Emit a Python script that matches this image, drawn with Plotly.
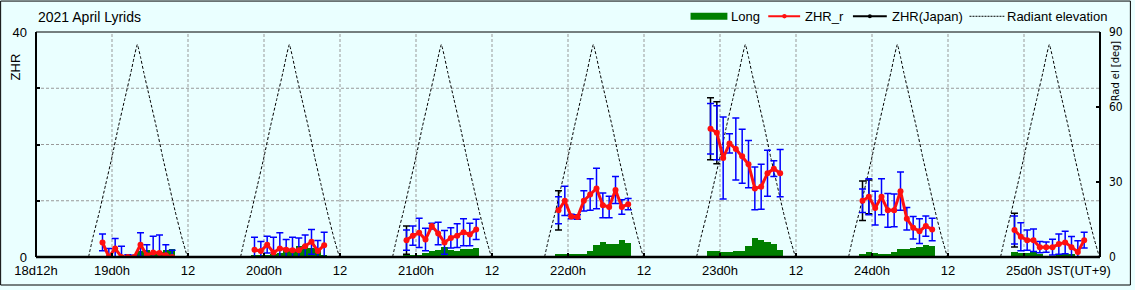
import plotly.graph_objects as go

# ---------------- data ----------------
# hour offsets (JST) relative to each day's 0h, hourly bins
offsets = [-1.5, -0.5, 0.5, 1.5, 2.5, 3.5, 4.5, 5.5, 6.5, 7.5, 8.5, 9.5]
days = [19, 20, 21, 22, 23, 24, 25]

zhr_r_19 = [2.6, 0.0, 1.5, 0.0, 0.0, 0.0, 2.2, 0.3, 0.8, 0.7, 0.3, 0.0]
zhr_r_20 = [1.3, 1.05, 2.2, 0.8, 1.5, 1.3, 1.2, 1.2, 1.9, 2.7, 1.05, 2.1]
zhr_r_21 = [3.0, 3.8, 4.3, 3.1, 5.5, 4.2, 2.6, 3.4, 3.8, 4.4, 4.0, 4.9]
zhr_r_22 = [8.3, 10.0, 7.2, 7.1, 10.0, 11.1, 12.2, 9.2, 8.9, 11.9, 8.9, 9.4]
zhr_r_23 = [22.8, 22.1, 17.6, 20.2, 19.2, 17.9, 16.5, 12.2, 12.5, 14.9, 15.7, 14.9]
zhr_r_24 = [10.0, 10.7, 8.7, 10.7, 8.3, 8.3, 11.7, 6.8, 5.2, 4.6, 5.5, 4.9]
zhr_r_25 = [4.8, 3.6, 3.0, 3.0, 1.75, 1.75, 1.75, 2.3, 2.6, 1.75, 0.9, 3.0]

err_19 = [1.5, 1.5, 1.8, 1.9, 0.4, 0.3, 2.1, 1.9, 2.9, 3.2, 1.9, 1.2]
err_20 = [2.2, 1.7, 1.5, 2.7, 2.8, 1.8, 2.3, 2.2, 2.0, 2.2, 1.9, 2.3]
err_21 = [1.8, 1.7, 2.6, 2.0, 0.5, 2.0, 2.1, 1.8, 2.1, 2.4, 2.0, 1.8]
err_22 = [2.4, 2.6, 0.4, 0.4, 1.8, 2.8, 3.6, 2.2, 1.9, 2.4, 1.3, 1.0]
err_23 = [4.5, 4.8, 7.3, 1.7, 5.5, 4.8, 4.2, 3.8, 4.0, 4.1, 1.4, 4.2]
err_24 = [2.1, 3.2, 3.0, 3.2, 3.0, 2.9, 3.4, 2.0, 2.0, 2.2, 1.8, 2.0]
err_25 = [2.5, 2.5, 1.8, 2.0, 1.0, 0.9, 1.4, 1.8, 2.0, 1.9, 2.0, 1.4]

# ZHR(Japan) (first hours of each night, mostly hidden under ZHR_r)
japan_days = [21, 22, 23, 23, 24, 24, 25]
japan_offsets = [-1.5, -1.5, -1.5, -0.5, -1.5, -0.5, -1.5]
zhr_japan = [3.0, 8.3, 22.8, 22.1, 10.0, 10.7, 4.8]
japan_err = [2.5, 3.5, 5.5, 5.5, 3.5, 3.0, 3.0]

# "Long" hourly bars
long_off_19 = [2.5, 3.5, 4.5, 5.5, 6.5, 7.5, 8.5, 9.5]
long_19 = [0.2, 0.3, 1.1, 1.2, 0.8, 0.9, 1.3, 1.4]
long_20 = [0.2, 0.2, 0.3, 0.5, 0.7, 1.2, 1.5, 2.0, 2.1, 1.6, 1.2, 0.4]
long_21 = [0.2, 0.2, 0.4, 0.7, 1.0, 1.3, 1.7, 1.3, 1.1, 1.4, 1.4, 1.6]
long_22 = [0.5, 0.5, 0.6, 0.6, 0.6, 1.0, 2.1, 2.7, 2.3, 2.3, 3.0, 2.5]
long_23 = [1.1, 1.1, 0.9, 0.9, 1.0, 1.0, 2.0, 3.4, 3.0, 2.7, 2.3, 1.3]
long_24 = [0.5, 0.9, 0.8, 0.6, 0.5, 0.9, 1.4, 1.5, 1.6, 1.75, 2.1, 1.9]
long_off_25 = [-1.5, -0.5, 0.5, 1.5, 2.5, 3.5, 4.5, 5.5, 6.5, 7.5, 8.5]
long_25 = [0.9, 0.7, 0.7, 1.1, 0.6, 0.0, 0.0, 0.5, 0.5, 0.5, 0.0]

# radiant elevation (deg) vs hours from culmination; culmination times (h since 18d0h)
rad_offsets = [-7.7, -7, -6, -5, -4, -3, -2, -1, -0.5, 0, 0.5, 1, 2, 3, 4, 5, 6, 7, 7.9]
rad_el = [0, 8, 18, 29, 40, 52, 63, 74, 80, 85, 80, 74, 63, 52, 40, 29, 18, 8, 0]
culmination = [28.0, 52.0, 76.0, 100.0, 124.0, 148.0, 172.0]

tick_hours = [12, 24, 36, 48, 60, 72, 84, 96, 108, 120, 132, 144, 156, 168]
tick_text = ["18d12h", "19d0h", "12", "20d0h", "12", "21d0h", "12", "22d0h",
             "12", "23d0h", "12", "24d0h", "12", "25d0h"]

# ---------------- geometry helpers ----------------
W, H = 1135, 290
L, R, T, B = 36, 1104, 32, 261
def PX(x):
    return (x - L) / (R - L)
def PY(y):
    return (B - y) / (B - T)

FONT = "Liberation Sans, Arial, sans-serif"
NARROW = "Liberation Sans Narrow, DejaVu Sans Condensed, sans-serif"
BG = "#EAFFFF"
RED = "#FF1010"
BLUE = "#0000FF"
GREEN = "#007F00"

fig = go.Figure()

# radiant elevation on base axis (right side, 0-90)
for c in culmination:
    fig.add_trace(go.Scatter(
        x=[c + o for o in rad_offsets], y=rad_el, mode="lines",
        line=dict(color="black", width=1, dash="3px,2px", shape="spline", smoothing=0.4),
        yaxis="y", showlegend=False, hoverinfo="skip"))

# Long bars on ZHR axis
long_sets = [(19, long_off_19, long_19), (20, offsets, long_20), (21, offsets, long_21),
             (22, offsets, long_22), (23, offsets, long_23), (24, offsets, long_24),
             (25, long_off_25, long_25)]
for d, offs, vals in long_sets:
    fig.add_trace(go.Bar(
        x=[(d - 18) * 24 + o for o in offs], y=vals, width=1.0,
        marker=dict(color=GREEN, line=dict(width=0)),
        yaxis="y2", showlegend=False))

# ZHR(Japan)
fig.add_trace(go.Scatter(
    x=[(d - 18) * 24 + o for d, o in zip(japan_days, japan_offsets)], y=zhr_japan,
    mode="markers", marker=dict(color="black", size=4),
    error_y=dict(type="data", array=japan_err, color="black", thickness=1.5, width=3.5),
    yaxis="y2", showlegend=False))

# ZHR_r per night
zhr_sets = [(19, zhr_r_19, err_19), (20, zhr_r_20, err_20), (21, zhr_r_21, err_21),
            (22, zhr_r_22, err_22), (23, zhr_r_23, err_23), (24, zhr_r_24, err_24),
            (25, zhr_r_25, err_25)]
for d, vals, errs in zhr_sets:
    xs = [(d - 18) * 24 + o for o in offsets]
    fig.add_trace(go.Scatter(
        x=xs, y=vals, mode="markers",
        marker=dict(color=RED, size=1),
        error_y=dict(type="data", array=errs, color=BLUE, thickness=1.5, width=3.5),
        yaxis="y2", showlegend=False, cliponaxis=True))
    fig.add_trace(go.Scatter(
        x=xs, y=vals, mode="lines+markers",
        line=dict(color=RED, width=3), marker=dict(color=RED, size=6),
        yaxis="y2", showlegend=False))

shapes = []
# grid lines
for h in tick_hours[1:]:
    shapes.append(dict(type="line", xref="x", yref="paper", x0=h, x1=h, y0=0, y1=1,
                       line=dict(color="#999999", width=1, dash="3px,2px"), layer="below"))
for z in [10, 20, 30]:
    shapes.append(dict(type="line", xref="paper", yref="paper", x0=0, x1=1,
                       y0=z / 40, y1=z / 40,
                       line=dict(color="#999999", width=1, dash="3px,2px"), layer="below"))
# plot frame
shapes += [
    dict(type="line", xref="paper", yref="paper", x0=0, x1=1, y0=1, y1=1, line=dict(color="black", width=1)),
    dict(type="line", xref="paper", yref="paper", x0=0, x1=1, y0=0, y1=0, line=dict(color="black", width=2.5)),
    dict(type="line", xref="paper", yref="paper", x0=0, x1=0, y0=0, y1=1, line=dict(color="black", width=2)),
    dict(type="line", xref="paper", yref="paper", x0=1, x1=1, y0=0, y1=1, line=dict(color="black", width=2)),
]
# outer border
shapes.append(dict(type="rect", xref="paper", yref="paper",
                   x0=PX(0.5), x1=PX(W - 0.5), y0=PY(H - 0.5), y1=PY(0.5),
                   line=dict(color="black", width=1)))

# legend (manual)
LY = 16
shapes.append(dict(type="rect", xref="paper", yref="paper", x0=PX(693), x1=PX(730),
                   y0=PY(LY + 3.5), y1=PY(LY - 3.5), fillcolor=GREEN, line=dict(width=0)))
shapes.append(dict(type="line", xref="paper", yref="paper", x0=PX(771), x1=PX(803),
                   y0=PY(LY), y1=PY(LY), line=dict(color=RED, width=2)))
shapes.append(dict(type="circle", xref="paper", yref="paper", x0=PX(785), x1=PX(789.5),
                   y0=PY(LY + 2.2), y1=PY(LY - 2.2), fillcolor=RED, line=dict(width=0)))
shapes.append(dict(type="line", xref="paper", yref="paper", x0=PX(856), x1=PX(890),
                   y0=PY(LY), y1=PY(LY), line=dict(color="black", width=2)))
shapes.append(dict(type="circle", xref="paper", yref="paper", x0=PX(871), x1=PX(875),
                   y0=PY(LY + 2), y1=PY(LY - 2), fillcolor="black", line=dict(width=0)))
shapes.append(dict(type="line", xref="paper", yref="paper", x0=PX(973), x1=PX(1008),
                   y0=PY(LY), y1=PY(LY), line=dict(color="black", width=1, dash="2px,1px")))

annotations = []
def ann(text, x, y, xanchor="left", size=13, angle=0, family=FONT):
    annotations.append(dict(text=text, x=PX(x), y=PY(y), xref="paper", yref="paper",
                            xanchor=xanchor, yanchor="middle", showarrow=False,
                            textangle=angle, font=dict(family=family, size=size, color="black")))

ann("2021 April Lyrids", 36, 17, size=14)
ann("Long", 732, LY, size=13)
ann("ZHR_r", 806, LY, size=13)
ann("ZHR(Japan)", 893, LY, size=13)
ann("Radiant elevation", 1009, LY, size=13)
ann("ZHR", 15, 68, xanchor="center", size=13, angle=-90)
ann("Rad el [deg]", 1119, 71, xanchor="center", size=11, angle=-90, family=NARROW)
ann("JST(UT+9)", 1083, 275, xanchor="center", size=13)

fig.update_layout(
    width=W, height=H, autosize=False,
    margin=dict(l=L, r=W - R, t=T, b=H - B, pad=0),
    paper_bgcolor=BG, plot_bgcolor=BG,
    showlegend=False, barmode="overlay", bargap=0,
    font=dict(family=FONT, size=13, color="black"),
    xaxis=dict(range=[12, 180], tickmode="array", tickvals=tick_hours, ticktext=tick_text,
               showgrid=False, zeroline=False, showline=False,
               ticks="inside", ticklen=4, tickwidth=2, tickcolor="black",
               tickfont=dict(size=13), ticklabelstandoff=4, fixedrange=True),
    yaxis=dict(range=[0, 90], side="right", tickvals=[0, 30, 60, 90],
               showgrid=False, zeroline=False, showline=False,
               ticks="inside", ticklen=4, tickwidth=2, tickcolor="black",
               tickfont=dict(size=12, family=NARROW),
               ticklabelstandoff=8),
    yaxis2=dict(range=[0, 40], side="left", overlaying="y", tickvals=[0, 10, 20, 30, 40],
                ticktext=["0", "", "", "", "40"],
                showgrid=False, zeroline=False, showline=False,
                ticks="inside", ticklen=4, tickwidth=2, tickcolor="black",
                tickfont=dict(size=13), ticklabelstandoff=8),
    shapes=shapes, annotations=annotations,
)

fig.write_html("out.html")
